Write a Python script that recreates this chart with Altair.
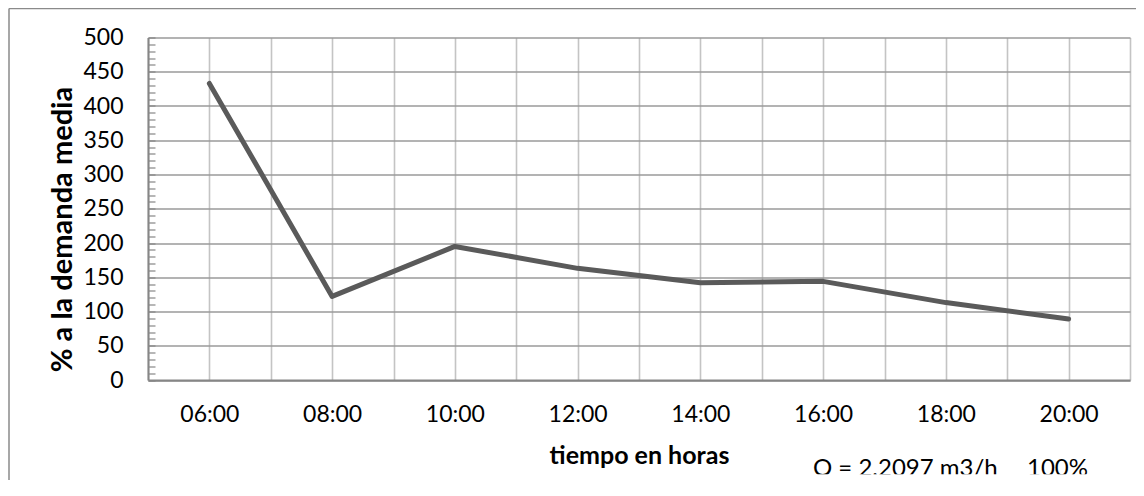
import json
import altair as alt
import pandas as pd

# ---- data ----
hours = ["06:00", "08:00", "10:00", "12:00", "14:00", "16:00", "18:00", "20:00"]
pct = [433, 122, 195, 163, 142, 144, 113, 89]
y_major_step = 50
y_minor_values = list(range(0, 501, 10))
note_texts = ["Q = 2.2097 m3/h", "100%"]

df = pd.DataFrame({"hora": hours, "pct": pct})
df["h"] = df["hora"].str[:2].astype(int)

FONT = "Lato"
XGRID = "#c4c4c4"
YGRID = "#9a9a9a"
AXIS = "#868686"
W, H = 982, 342.5

# label lookup for the x axis built from the hour labels
lbl = [""] * 22
for hh in hours:
    lbl[int(hh[:2])] = hh
label_expr = json.dumps(lbl) + "[datum.value]"
major_test = f"datum.value % {y_major_step} === 0"

xscale = alt.Scale(domain=[5, 21], nice=False, zero=False)
yscale = alt.Scale(domain=[0, 500], nice=False)

line = alt.Chart(df).mark_line(
    color="#5a5a5a", strokeWidth=5, strokeCap="round", strokeJoin="round"
).encode(
    x=alt.X("h:Q", scale=xscale, axis=alt.Axis(
        values=list(range(5, 22)), labelExpr=label_expr, labelOverlap=False,
        labelFlush=False, labelBound=False,
        grid=True, gridColor=XGRID, gridWidth=1.6, ticks=False,
        domainColor=AXIS, domainWidth=2,
        labelFontSize=23, labelPadding=23,
        title="tiempo en horas", titleFontSize=25, titleFontWeight="bold",
        titleBaseline="alphabetic", titleY=83,
    )),
    y=alt.Y("pct:Q", scale=yscale, axis=alt.Axis(
        values=y_minor_values,
        labelExpr=f"{major_test} ? datum.label : ''", labelOverlap=False,
        grid=True, gridColor=YGRID, gridWidth=1.6,
        gridOpacity={"condition": {"test": major_test, "value": 1}, "value": 0},
        ticks=True, tickSize={"expr": "-7"}, tickColor=AXIS, tickWidth=1.2,
        domainColor=AXIS, domainWidth=2,
        labelFontSize=23, labelPadding=32,
        title="% a la demanda media", titleFontSize=29, titleFontWeight="bold",
        titleX=-86, titleY=191.5, titleAlign="center", titleBaseline="middle",
    )),
)

one = alt.Data(values=[{"k": 1}])
border_top = alt.Chart(one).mark_rule(color="#8a8a8a", strokeWidth=1.5).encode(
    x=alt.value(-139), x2=alt.value(1000), y=alt.value(-29)
)
border_left = alt.Chart(one).mark_rule(color="#8a8a8a", strokeWidth=1.5).encode(
    x=alt.value(-139), y=alt.value(-29), y2=alt.value(470)
)

notes = pd.DataFrame({"t": note_texts, "xpos": [665, 879]})
note = alt.Chart(notes).mark_text(
    font=FONT, fontSize=24, align="left", baseline="alphabetic", color="black"
).encode(
    x=alt.X("xpos:Q", scale=None), y=alt.value(438), text="t:N"
)
cover = alt.Chart(one).mark_rect(color="white").encode(
    x=alt.value(640), x2=alt.value(960), y=alt.value(436.8), y2=alt.value(470)
)

chart = alt.layer(line, border_top, border_left, note, cover).properties(
    width=W, height=H,
    autosize=alt.AutoSizeParams(type="none"),
    padding={"left": 140, "top": 29.5, "right": 6, "bottom": 100},
).configure_view(stroke=None).configure_axis(
    labelFont=FONT, titleFont=FONT, labelColor="black", titleColor="black"
)

chart.save("out.html", embed_options={"renderer": "svg", "actions": False})
